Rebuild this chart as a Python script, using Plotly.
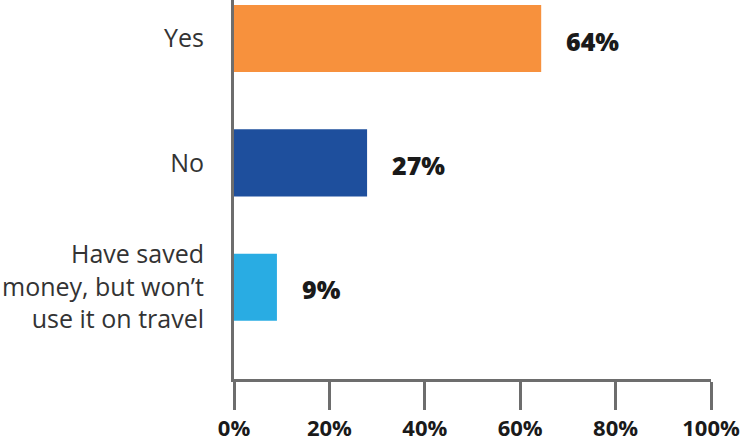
import plotly.graph_objects as go

categories = ["Yes", "No", "Have saved<br>money, but won’t<br>use it on travel"]
values = [64.4, 27.9, 9.0]
value_labels = ["64%", "27%", "9%"]
colors = ["#F7913D", "#1E4F9D", "#29ACE3"]
tick_vals = [0, 20, 40, 60, 80, 100]
tick_text = ["0%", "20%", "40%", "60%", "80%", "100%"]

fig = go.Figure()
fig.add_trace(go.Bar(
    x=values, y=categories, orientation="h",
    marker=dict(color=colors, line=dict(width=0)),
    width=0.54, hoverinfo="skip",
))

for v, c, t in zip(values, categories, value_labels):
    fig.add_annotation(x=v, y=c, text=t, showarrow=False,
                       xanchor="left", xshift=23, yshift=-2,
                       font=dict(family="Open Sans", size=25, color="#1a1a1a", weight=800))

fig.update_layout(
    width=744, height=442,
    margin=dict(l=234, r=33, t=0, b=58),
    plot_bgcolor="white", paper_bgcolor="white",
    showlegend=False,
    xaxis=dict(range=[0, 100], tickvals=tick_vals, ticktext=tick_text,
               showgrid=False, zeroline=False, showline=True, linecolor="#6d6d6d", linewidth=3,
               ticks="outside", ticklen=28, tickwidth=3, tickcolor="#6d6d6d",
               tickfont=dict(family="Open Sans", size=22, color="#1a1a1a", weight=700)),
    yaxis=dict(range=[2.738, -0.31], showgrid=False, zeroline=False, showline=True,
               linecolor="#6d6d6d", linewidth=3, ticks="", ticklabelstandoff=22,
               tickfont=dict(family="Open Sans", size=25, color="#333333")),
)

fig.write_html("out.html", config={"displayModeBar": False},
               post_script="document.body.style.margin='0';document.body.style.overflow='hidden';")
